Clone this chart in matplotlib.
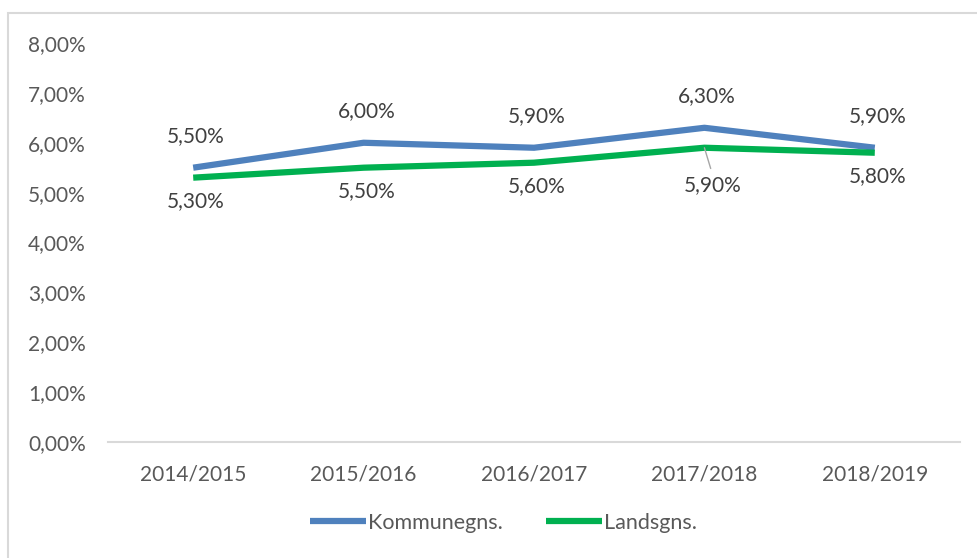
import matplotlib.pyplot as plt
from matplotlib.patches import Rectangle

plt.rcParams['font.family'] = ['Lato', 'DejaVu Sans']

years = ['2014/2015', '2015/2016', '2016/2017', '2017/2018', '2018/2019']
kommune = [5.5, 6.0, 5.9, 6.3, 5.9]
lands = [5.3, 5.5, 5.6, 5.9, 5.8]

blue = '#4F81BD'
green = '#00B050'
grey = '#595959'

fig = plt.figure(figsize=(9.78, 5.58), dpi=100)
fig.patches.append(Rectangle((8 / 978, -0.1), 1.2, 1 - 13 / 558 + 0.1,
                             transform=fig.transFigure, fill=False,
                             edgecolor='#D9D9D9', linewidth=1.5))

ax = fig.add_axes([108 / 978, 1 - 442 / 558, 852 / 978, 399 / 558])
x = list(range(len(years)))
ax.plot(x, kommune, color=blue, linewidth=4.5, label='Kommunegns.',
        solid_capstyle='butt')
ax.plot(x, lands, color=green, linewidth=4.5, label='Landsgns.',
        solid_capstyle='butt')

ax.set_xlim(-0.5, len(years) - 0.5)
ax.set_ylim(0, 8)
ax.set_yticks(range(0, 9))
ax.set_yticklabels([f'{v},00%' for v in range(0, 9)])
ax.set_xticks(x)
ax.set_xticklabels(years)
ax.tick_params(length=0, labelsize=15, colors=grey)
ax.tick_params(axis='y', pad=16)
ax.tick_params(axis='x', pad=16)
for s in ['top', 'right', 'left']:
    ax.spines[s].set_visible(False)
ax.spines['bottom'].set_color('#D9D9D9')
ax.spines['bottom'].set_linewidth(1.5)

def fmt(v):
    return f'{v:.2f}'.replace('.', ',') + '%'

for i, v in enumerate(kommune):
    ax.annotate(fmt(v), (i, v), xytext=(2, 23), textcoords='offset points',
                ha='center', va='center', fontsize=15, color='#404040')
for i, v in enumerate(lands):
    if i == 3:
        # label pushed aside, joined to its point by a leader line
        ax.annotate(fmt(v), (i, v), xytext=(6, -27), textcoords='offset points',
                    ha='center', va='center', fontsize=15, color='#404040',
                    arrowprops=dict(arrowstyle='-', color='#A6A6A6', lw=1,
                                    shrinkA=3, shrinkB=0,
                                    relpos=(0.5, 1.0)))
    else:
        ax.annotate(fmt(v), (i, v), xytext=(2, -17), textcoords='offset points',
                    ha='center', va='center', fontsize=15, color='#404040')

fig.legend(loc='center', bbox_to_anchor=(0.515, 1 - 523 / 558), ncol=2,
           frameon=False, fontsize=15.5, labelcolor=grey, handlelength=2.6,
           handletextpad=0.1, columnspacing=2.0)

fig.savefig('out.png', dpi=100)
